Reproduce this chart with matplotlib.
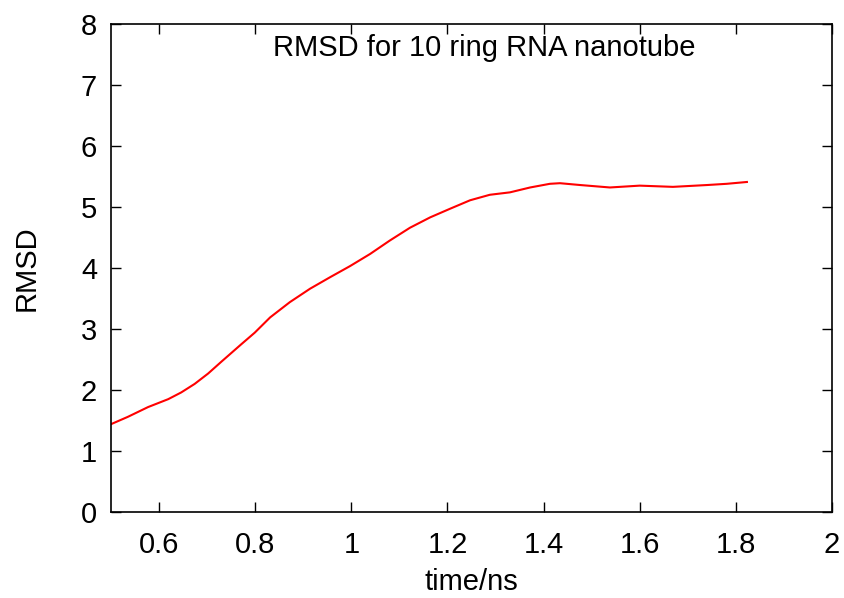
import matplotlib
matplotlib.use("Agg")
import matplotlib.pyplot as plt

plt.rcParams['font.family'] = ['Liberation Sans', 'DejaVu Sans']

# values
time_ns = [0.500, 0.535, 0.577, 0.619, 0.646, 0.674, 0.702, 0.729, 0.771,
           0.799, 0.831, 0.872, 0.914, 0.956, 0.997, 1.039, 1.080, 1.122,
           1.164, 1.205, 1.247, 1.288, 1.330, 1.372, 1.413, 1.434, 1.476,
           1.538, 1.600, 1.669, 1.740, 1.781, 1.823]
rmsd = [1.44, 1.56, 1.72, 1.85, 1.96, 2.10, 2.27, 2.46, 2.75,
        2.94, 3.19, 3.44, 3.66, 3.85, 4.03, 4.23, 4.45, 4.66,
        4.83, 4.97, 5.11, 5.20, 5.24, 5.32, 5.38, 5.39, 5.36,
        5.32, 5.35, 5.33, 5.36, 5.38, 5.41]
xticks = [0.6, 0.8, 1, 1.2, 1.4, 1.6, 1.8, 2]
xticklabels = ['0.6', '0.8', '1', '1.2', '1.4', '1.6', '1.8', '2']
yticks = [0, 1, 2, 3, 4, 5, 6, 7, 8]

fig = plt.figure(figsize=(8.45, 5.98), dpi=100)
ax = fig.add_axes([0.1314, 0.1438, 0.8532, 0.8161])

ax.plot(time_ns, rmsd, color='red', lw=1.5, solid_joinstyle='round')

ax.set_xlim(0.5, 2)
ax.set_ylim(0, 8)
ax.set_xticks(xticks)
ax.set_xticklabels(xticklabels)
ax.set_yticks(yticks)
ax.tick_params(direction='in', length=7, width=1, top=True, right=True,
               labelsize=21)
ax.tick_params(axis='y', pad=10)
ax.tick_params(axis='x', pad=14)
for s in ax.spines.values():
    s.set_linewidth(1.2)

ax.set_xlabel('time/ns', fontsize=21, labelpad=6)
ax.set_ylabel('RMSD', fontsize=21, labelpad=29)
ax.text(0.811, 0.951, 'RMSD for 10 ring RNA nanotube', transform=ax.transAxes,
        ha='right', va='center', fontsize=21)

fig.savefig('out.png', dpi=100)
